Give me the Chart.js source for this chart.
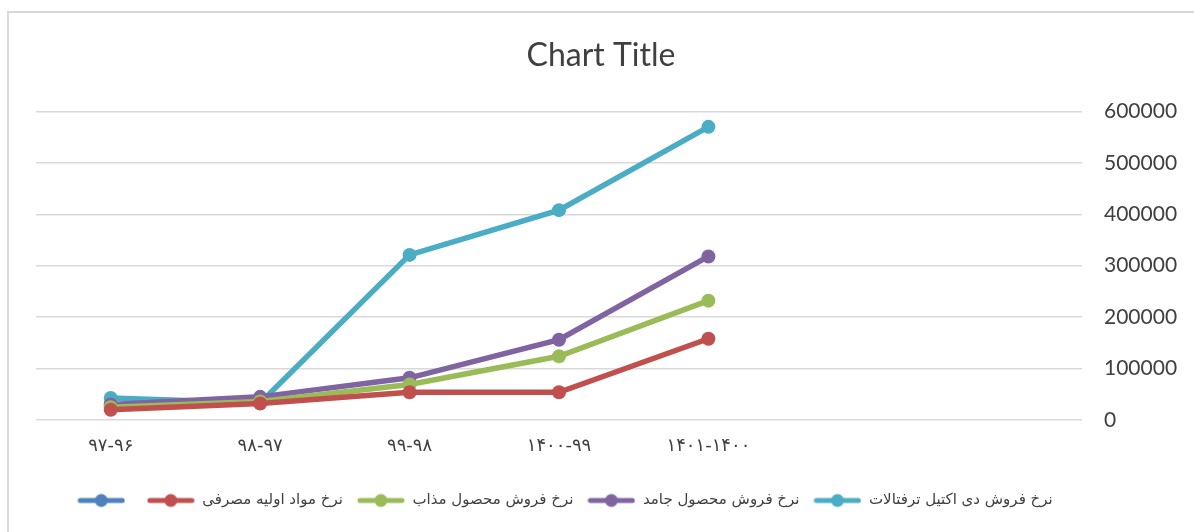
<!DOCTYPE html>
<html lang="fa">
<head>
    <meta charset="UTF-8">
    <title>Chart Title</title>
    <script src="https://cdn.jsdelivr.net/npm/chart.js"></script>
    <style>
        body {
            margin: 0;
            background: #fff;
        }
        .frame {
            position: absolute;
            left: 7px;
            top: 11px;
            width: 1200px;
            height: 540px;
            border: 2px solid #d9d9d9;
        }
        .chart-container {
            position: absolute;
            left: 0;
            top: 0;
            width: 1194px;
            height: 532px;
        }
    </style>
</head>
<body>
<div class="frame"></div>
<div class="chart-container">
    <canvas id="chart"></canvas>
</div>

<script>
    // данные графика
    const categories = ['۹۷-۹۶', '۹۸-۹۷', '۹۹-۹۸', '۱۴۰۰-۹۹', '۱۴۰۱-۱۴۰۰', '', ''];
    const seriesNames = ['', 'نرخ مواد اولیه مصرفی', 'نرخ فروش محصول مذاب', 'نرخ فروش محصول جامد', 'نرخ فروش دی اکتیل ترفتالات'];
    const blueValues = [null, null, null, null, null, null, null];
    const redValues = [20000, 32000, 54000, 54000, 158000, null, null];
    const greenValues = [25000, 36000, 69000, 124000, 232000, null, null];
    const purpleValues = [30000, 45000, 82000, 156000, 318000, null, null];
    const cyanValues = [43000, 33000, 321000, 408000, 570000, null, null];
    const yTicks = [0, 100000, 200000, 300000, 400000, 500000, 600000];

    const colors = ['#4F81BD', '#C0504D', '#9BBB59', '#8064A2', '#4BACC6'];
    const allValues = [blueValues, redValues, greenValues, purpleValues, cyanValues];

    // значок легенды: линия с точкой
    function legendMark(color) {
        const c = document.createElement('canvas');
        c.width = 48;
        c.height = 16;
        const g = c.getContext('2d');
        g.strokeStyle = color;
        g.lineWidth = 5;
        g.lineCap = 'round';
        g.beginPath();
        g.moveTo(3, 8);
        g.lineTo(45, 8);
        g.stroke();
        g.fillStyle = color;
        g.beginPath();
        g.arc(24, 8, 6.5, 0, Math.PI * 2);
        g.fill();
        return c;
    }
    const marks = colors.map(legendMark);

    const datasets = allValues.map((vals, i) => ({
        label: seriesNames[i],
        data: vals,
        borderColor: colors[i],
        backgroundColor: colors[i],
        pointBackgroundColor: colors[i],
        pointBorderColor: colors[i],
        borderWidth: 5.5,
        pointRadius: 7,
        pointBorderWidth: 0,
        tension: 0,
        fill: false
    }));

    // сдвиг легенды влево, как в оригинале
    const legendShift = {
        id: 'legendShift',
        afterLayout(chart) {
            chart.legend.left -= 36;
            chart.legend.right -= 36;
        }
    };

    const ctx = document.getElementById('chart').getContext('2d');
    new Chart(ctx, {
        type: 'line',
        data: {
            labels: categories,
            datasets: datasets
        },
        plugins: [legendShift],
        options: {
            responsive: true,
            maintainAspectRatio: false,
            animation: false,
            layout: {
                padding: {left: 8, right: 0, top: 36, bottom: 14}
            },
            plugins: {
                title: {
                    display: true,
                    text: 'Chart Title',
                    color: '#404040',
                    font: {family: 'Lato, "Open Sans", sans-serif', size: 32, weight: 'normal'},
                    padding: {top: 0, bottom: 37}
                },
                legend: {
                    position: 'bottom',
                    labels: {
                        usePointStyle: true,
                        pointStyleWidth: 48,
                        padding: 14,
                        color: '#404040',
                        font: {family: '"DejaVu Sans", sans-serif', size: 15},
                        generateLabels(chart) {
                            const items = Chart.defaults.plugins.legend.labels.generateLabels(chart);
                            return items.map((it, i) => Object.assign(it, {pointStyle: marks[i]}));
                        }
                    }
                },
                tooltip: {enabled: false}
            },
            scales: {
                x: {
                    offset: true,
                    grid: {display: false},
                    border: {display: false},
                    afterFit(s) { s.height = 59; },
                    ticks: {
                        color: '#404040',
                        padding: 8,
                        maxRotation: 0,
                        autoSkip: false,
                        font: {family: '"DejaVu Sans", sans-serif', size: 18}
                    }
                },
                yl: {
                    position: 'left',
                    display: true,
                    grid: {display: false},
                    border: {display: false},
                    ticks: {display: false},
                    afterFit(s) { s.width = 28; }
                },
                y: {
                    position: 'right',
                    min: 0,
                    max: 600000,
                    grid: {color: '#d9d9d9', lineWidth: 1.5, drawTicks: false},
                    border: {display: false},
                    afterBuildTicks(s) { s.ticks = yTicks.map(v => ({value: v})); },
                    afterFit(s) { s.width = 112; },
                    ticks: {
                        color: '#404040',
                        padding: 22,
                        font: {family: 'Lato, "Open Sans", sans-serif', size: 21},
                        callback: v => String(v)
                    }
                }
            }
        }
    });
</script>
</body>
</html>
